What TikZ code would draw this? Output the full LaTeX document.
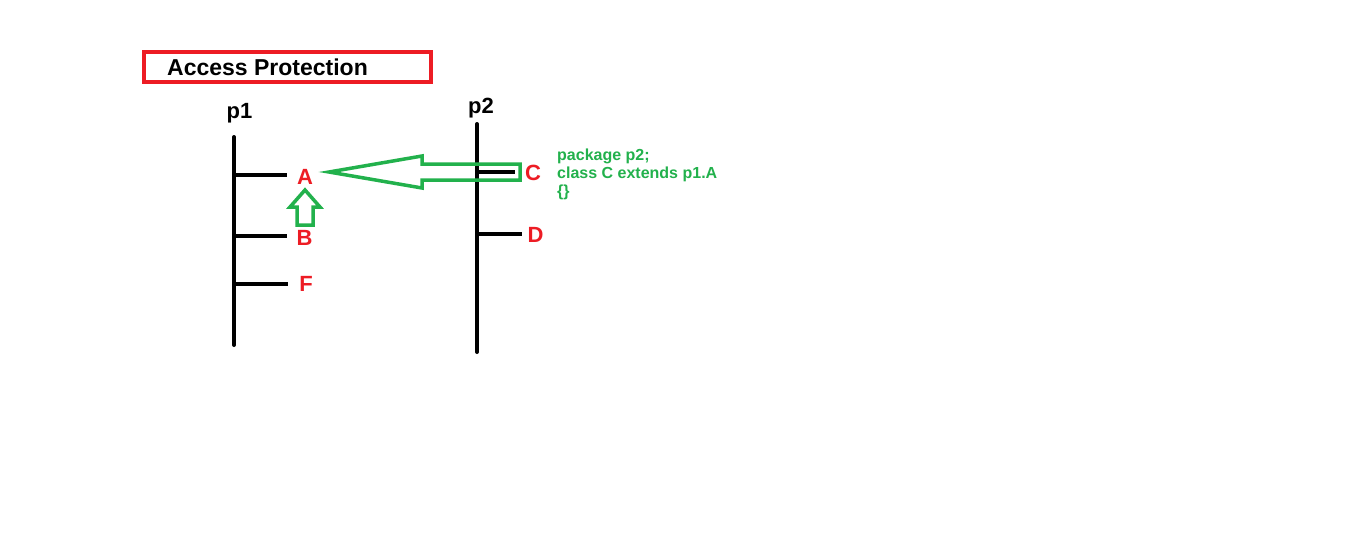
\documentclass[tikz,border=0pt]{standalone}
\usepackage{fontspec}
\setmainfont{Liberation Sans}
\definecolor{paintred}{RGB}{237,28,36}
\definecolor{paintgreen}{RGB}{34,177,76}
\tikzset{
  pkgline/.style={line width=4pt, line cap=round},
  tick/.style={line width=4pt},
  classname/.style={text=paintred, inner sep=0pt, anchor=base, font=\bfseries\fontsize{22}{26}\selectfont},
  pkgname/.style={inner sep=0pt, anchor=base, font=\bfseries\fontsize{22}{26}\selectfont},
  hollowarrow/.style={draw=paintgreen, line width=3.5pt, line join=miter},
}
\begin{document}
\begin{tikzpicture}[x=1pt, y=-1pt]
    \useasboundingbox (0,0) rectangle (1345,555);
    \fill[white] (0,0) rectangle (1345,555);

    % Titolo
    \draw[paintred, line width=4pt] (144,52) rectangle (431,82);
    \node[anchor=base west, inner sep=0pt, font=\bfseries\fontsize{23}{28}\selectfont] (title) at (167,75) {Access Protection};

    % Coordinate dei pacchetti
    \coordinate (p1top) at (234,137);
    \coordinate (p1bot) at (234,345);
    \coordinate (p2top) at (477,124);
    \coordinate (p2bot) at (477,352);

    % Nomi dei pacchetti
    \node[pkgname] (p1) at (239.5,118) {p1};
    \node[pkgname] (p2) at (481,113) {p2};

    % Classi
    \node[classname] (A) at (305,184) {A};
    \node[classname] (B) at (304.5,245) {B};
    \node[classname] (F) at (306,291) {F};
    \node[classname] (C) at (533,180) {C};
    \node[classname] (D) at (535.5,242) {D};

    % Linee dei pacchetti
    \draw[pkgline] (p1top) -- (p1bot);
    \draw[pkgline] (p2top) -- (p2bot);

    % Rami
    \draw[tick] (p1top |- 0,175) -- (287,175) coordinate (ta);
    \draw[tick] (p1top |- 0,236) -- (287,236) coordinate (tb);
    \draw[tick] (p1top |- 0,284) -- (288,284) coordinate (tf);
    \draw[tick] (p2top |- 0,172) -- (515,172) coordinate (tc);
    \draw[tick] (p2top |- 0,234) -- (522,234) coordinate (td);

    % Frecce (contorno)
    \draw[hollowarrow] (329,172) -- (422,156) -- (422,164) -- (520,164)
        -- (520,180) -- (422,180) -- (422,188) -- cycle;
    \draw[hollowarrow] (305,190) -- (320,207) -- (313,207) -- (313,225)
        -- (297,225) -- (297,207) -- (290,207) -- cycle;

    % Codice
    \node[anchor=north west, inner sep=0pt, align=left, text=paintgreen,
          font=\bfseries\fontsize{16}{18}\selectfont] (code) at (557,149)
        {package p2;\\class C extends p1.A\\\{\}};
\end{tikzpicture}
\end{document}
